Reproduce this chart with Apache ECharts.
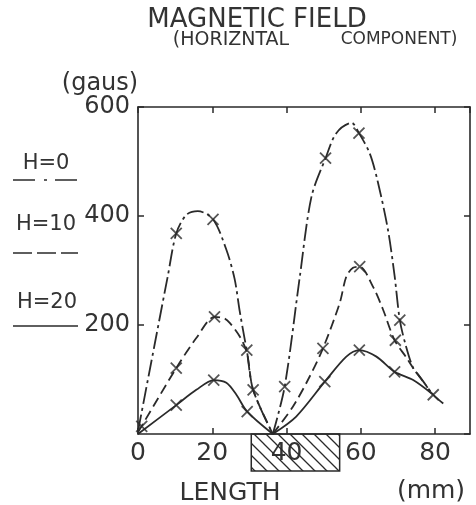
<!DOCTYPE html>
<html>
<head>
<meta charset="utf-8">
<title>Magnetic field</title>
<script src="https://cdn.jsdelivr.net/npm/echarts@6/dist/echarts.min.js"></script>
<style>
  html, body { margin: 0; padding: 0; background: #fff; }
  #main { width: 476px; height: 505px; }
</style>
</head>
<body>
<div id="main"></div>
<script type="text/javascript">
// tick labels
var xTicks = [0, 20, 40, 60, 80];
var yTicks = [200, 400, 600];

// curves as drawn, [length mm, field gaus], split at the dip so the cusp stays sharp
var h0Left = [[0, 5], [8, 289], [10.3, 368], [13, 402], [16.1, 409], [20.2, 394], [23.8, 338], [26, 285], [27.4, 225], [28.7, 175], [29.3, 154], [31, 81], [36.3, 0]];
var h0Right = [[36.3, 0], [39.5, 87], [43.5, 285], [46.7, 435], [50.5, 506], [53.4, 552], [57.5, 571], [59.5, 552], [62.4, 515], [64.6, 462], [67.3, 375], [69.1, 290], [70.5, 209], [72.2, 160], [74.1, 121], [75.9, 105], [79.5, 72], [82.2, 56]];
var h10Left = [[0, 3], [10.3, 121], [15.7, 176], [20.6, 215], [23.3, 212], [24.7, 204], [27.4, 179], [29.3, 150], [31, 81], [36.3, 0]];
var h10Right = [[36.3, 0], [41.7, 50], [46.2, 105], [49.8, 157], [54.3, 240], [56.1, 289], [57.9, 305], [59.7, 307], [63.3, 270], [66, 228], [69.1, 172], [72.3, 140], [74.1, 121], [78, 85]];
var h20Left = [[0, 0], [10.3, 53], [15.7, 81], [20.4, 99], [23.8, 94], [26.5, 72], [29.4, 41], [36.3, 0]];
var h20Right = [[36.3, 0], [42.6, 32], [50.3, 96], [56.1, 142], [59.6, 154], [64.2, 142], [69.1, 114], [74.1, 99], [79.5, 72]];

// measured points (the x marks)
var h0Marks = [[10.3, 368], [20.2, 394], [29.3, 154], [39.5, 87], [50.5, 506], [59.5, 552], [70.5, 209]];
var h10Marks = [[1, 14], [10.3, 121], [20.6, 215], [31, 81], [49.8, 157], [59.7, 307], [69.3, 172]];
var h20Marks = [[10.3, 53], [20.4, 99], [29.4, 41], [50.3, 96], [59.6, 154], [69.1, 114], [79.5, 72]];

// hatched block under the axis (mm)
var blockSpan = [[30.5, 54.3]];

var ink = '#2a2a2a';
var textInk = '#333';
var font = 'DejaVu Sans';

var hatch = document.createElement('canvas');
hatch.width = 12; hatch.height = 12;
var g = hatch.getContext('2d');
g.strokeStyle = ink; g.lineWidth = 1.3;
g.beginPath();
g.moveTo(-1, -1); g.lineTo(13, 13);
g.moveTo(-1, 11); g.lineTo(1, 13);
g.moveTo(11, -1); g.lineTo(13, 1);
g.stroke();

var dashDot = [17, 4, 3, 4];
var dashed = [10, 5];

function curve(name, data, dash) {
    return {
        name: name, type: 'line', data: data, smooth: 0.3,
        showSymbol: false, silent: true,
        lineStyle: { color: ink, width: 1.8, type: dash }
    };
}
function marks(name, data) {
    return {
        name: name, type: 'scatter', data: data, silent: true, z: 5,
        symbol: 'path://M0,0L10,10M0,10L10,0', symbolSize: 11,
        itemStyle: { color: 'none', borderColor: ink, borderWidth: 1.8 }
    };
}
function label(x, y, text, size) {
    return { type: 'text', x: x, y: y, style: { text: text, font: size + 'px ' + font, fill: textInk, align: 'center', verticalAlign: 'middle' } };
}

var frameAxis = { lineStyle: { color: ink, width: 1.6 }, onZero: false };
var frameTick = { show: true, inside: true, length: 6, lineStyle: { color: ink, width: 1.5 } };

var myChart = echarts.init(document.getElementById('main'));

var option = {
    animation: false,
    backgroundColor: '#fff',
    grid: { left: 138, right: 6, top: 107, bottom: 71 },
    xAxis: [{
        type: 'value', min: 0, max: 89.4, interval: 20,
        axisLine: frameAxis,
        axisTick: frameTick,
        axisLabel: {
            margin: 7, color: textInk, fontFamily: font, fontSize: 25, showMaxLabel: false,
            formatter: function (v) { return xTicks.indexOf(v) >= 0 ? String(v) : ''; }
        },
        splitLine: { show: false }
    }, {
        type: 'value', position: 'top', min: 0, max: 89.4, interval: 20,
        axisLine: frameAxis,
        axisTick: frameTick,
        axisLabel: { show: false },
        splitLine: { show: false }
    }],
    yAxis: [{
        type: 'value', min: 0, max: 600, interval: 200,
        axisLine: { show: true, lineStyle: frameAxis.lineStyle, onZero: false },
        axisTick: frameTick,
        axisLabel: {
            margin: 8, color: textInk, fontFamily: font, fontSize: 24, showMinLabel: false,
            formatter: function (v) { return yTicks.indexOf(v) >= 0 ? String(v) : ''; }
        },
        splitLine: { show: false }
    }, {
        type: 'value', position: 'right', min: 0, max: 600, interval: 200,
        axisLine: { show: true, lineStyle: frameAxis.lineStyle, onZero: false },
        axisTick: frameTick,
        axisLabel: { show: false },
        splitLine: { show: false }
    }],
    graphic: [
        label(257, 20, 'MAGNETIC FIELD', 26),
        label(231, 40, '(HORIZNTAL', 19),
        label(399, 40, 'COMPONENT)', 17),
        label(100, 84, '(gaus)', 24),
        label(230, 493, 'LENGTH', 25),
        label(431, 491, '(mm)', 25),

        label(46, 164, 'H=0', 21),
        { type: 'line', shape: { x1: 13, y1: 180, x2: 78, y2: 180 }, style: { stroke: ink, lineWidth: 1.6, lineDash: [22, 9, 3, 8] } },
        label(46, 225, 'H=10', 21),
        { type: 'line', shape: { x1: 13, y1: 253, x2: 78, y2: 253 }, style: { stroke: ink, lineWidth: 1.6, lineDash: [19, 5] } },
        label(47, 303, 'H=20', 21),
        { type: 'line', shape: { x1: 13, y1: 326, x2: 78, y2: 326 }, style: { stroke: ink, lineWidth: 1.6 } }
    ],
    series: [
        curve('H=0', h0Left, dashDot),
        curve('H=0', h0Right, dashDot),
        curve('H=10', h10Left, dashed),
        curve('H=10', h10Right, dashed),
        curve('H=20', h20Left, 'solid'),
        curve('H=20', h20Right, 'solid'),
        marks('H=0', h0Marks),
        marks('H=10', h10Marks),
        marks('H=20', h20Marks),
        {
            type: 'custom', data: blockSpan, clip: false, silent: true, z: 1,
            renderItem: function (params, api) {
                var a = api.coord([api.value(0), 0]);
                var b = api.coord([api.value(1), 0]);
                return {
                    type: 'rect',
                    shape: { x: a[0], y: a[1], width: b[0] - a[0], height: 37 },
                    style: { fill: { image: hatch, repeat: 'repeat' }, stroke: ink, lineWidth: 1.5 }
                };
            }
        }
    ]
};
myChart.setOption(option);
</script>
</body>
</html>
